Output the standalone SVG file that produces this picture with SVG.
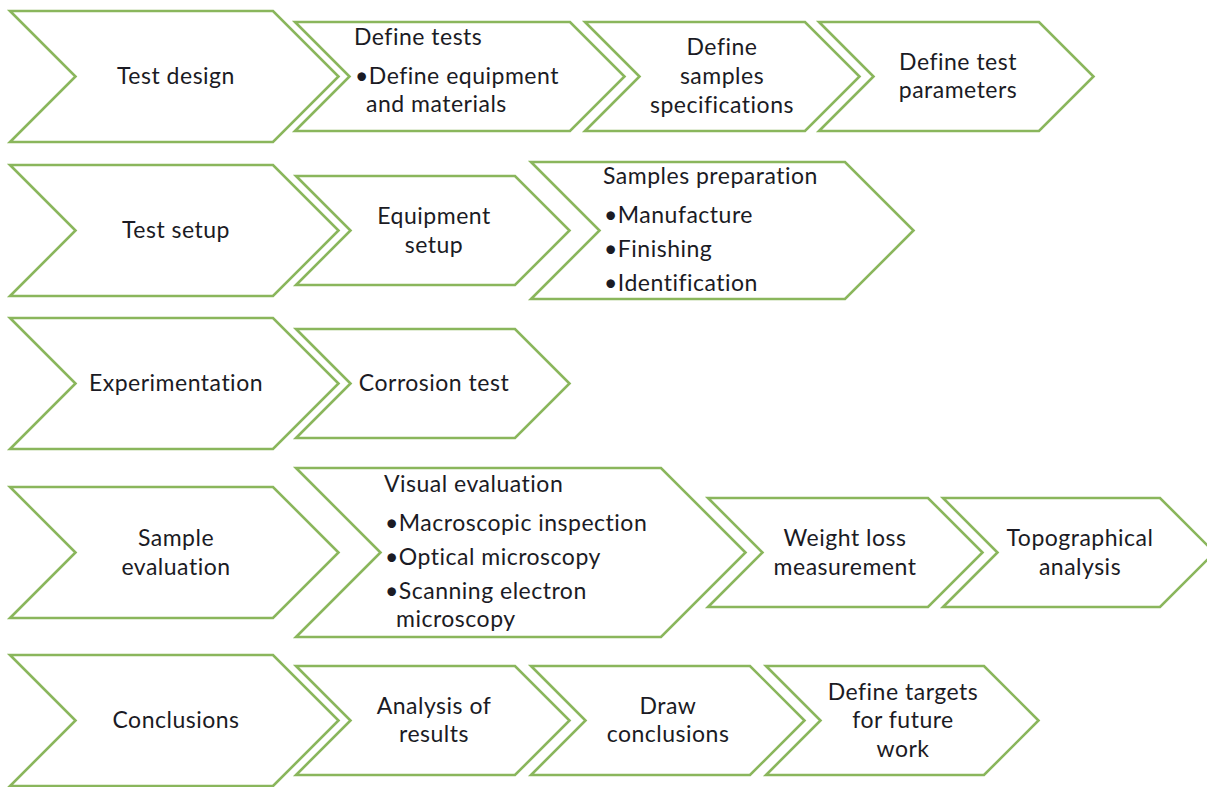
<svg xmlns="http://www.w3.org/2000/svg" width="1207" height="787" viewBox="0 0 1207 787">
  <style>
    .chev { fill: #ffffff; stroke: #8ab65c; stroke-width: 2.6; stroke-linejoin: miter; }
    text { font-family: Lato, "Open Sans", "Liberation Sans", sans-serif; font-size: 23px; letter-spacing: 0.5px; fill: #1b1b24; }
    .c { text-anchor: middle; }
  </style>
  <rect width="1207" height="787" fill="#ffffff"/>

  <!-- Row 1: Test design -->
  <g id="test-design">
    <polygon class="chev" points="10,11 273,11 338.5,76.5 273,142 10,142 75.5,76.5"/>
    <text class="c" x="176" y="84">Test design</text>
  </g>
  <g id="define-tests">
    <polygon class="chev" points="295,22 570,22 624.5,76.5 570,131 295,131 349.5,76.5"/>
    <text x="354" y="45">Define tests</text>
    <text x="355" y="84">•Define equipment</text>
    <text x="366" y="112">and materials</text>
  </g>
  <g id="define-samples">
    <polygon class="chev" points="585,22 805,22 859.5,76.5 805,131 585,131 639.5,76.5"/>
    <text class="c" x="722" y="55">Define</text>
    <text class="c" x="722" y="84">samples</text>
    <text class="c" x="722" y="113">specifications</text>
  </g>
  <g id="define-parameters">
    <polygon class="chev" points="819,22 1039,22 1093.5,76.5 1039,131 819,131 873.5,76.5"/>
    <text class="c" x="958" y="70">Define test</text>
    <text class="c" x="958" y="98">parameters</text>
  </g>

  <!-- Row 2: Test setup -->
  <g id="test-setup">
    <polygon class="chev" points="10,165 273,165 338.5,230.5 273,296 10,296 75.5,230.5"/>
    <text class="c" x="176" y="238">Test setup</text>
  </g>
  <g id="equipment-setup">
    <polygon class="chev" points="296,176 515,176 569.5,230.5 515,285 296,285 350.5,230.5"/>
    <text class="c" x="434" y="224">Equipment</text>
    <text class="c" x="434" y="253">setup</text>
  </g>
  <g id="samples-preparation">
    <polygon class="chev" points="531,162 845,162 913.5,230.5 845,299 531,299 599.5,230.5"/>
    <text x="603" y="184">Samples preparation</text>
    <text x="604" y="223">•Manufacture</text>
    <text x="604" y="257">•Finishing</text>
    <text x="604" y="291">•Identification</text>
  </g>

  <!-- Row 3: Experimentation -->
  <g id="experimentation">
    <polygon class="chev" points="10,318 273,318 338.5,383.5 273,449 10,449 75.5,383.5"/>
    <text class="c" x="176" y="391">Experimentation</text>
  </g>
  <g id="corrosion-test">
    <polygon class="chev" points="296,329 515,329 569.5,383.5 515,438 296,438 350.5,383.5"/>
    <text class="c" x="434" y="391">Corrosion test</text>
  </g>

  <!-- Row 4: Sample evaluation -->
  <g id="sample-evaluation">
    <polygon class="chev" points="10,487 273,487 338.5,552.5 273,618 10,618 75.5,552.5"/>
    <text class="c" x="176" y="546">Sample</text>
    <text class="c" x="176" y="575">evaluation</text>
  </g>
  <g id="visual-evaluation">
    <polygon class="chev" points="296,468 661,468 745.5,552.5 661,637 296,637 380.5,552.5"/>
    <text x="384" y="492">Visual evaluation</text>
    <text x="385" y="531">•Macroscopic inspection</text>
    <text x="385" y="565">•Optical microscopy</text>
    <text x="385" y="599">•Scanning electron</text>
    <text x="396" y="627">microscopy</text>
  </g>
  <g id="weight-loss">
    <polygon class="chev" points="708,498 928,498 982.5,552.5 928,607 708,607 762.5,552.5"/>
    <text class="c" x="845" y="546">Weight loss</text>
    <text class="c" x="845" y="575">measurement</text>
  </g>
  <g id="topographical-analysis">
    <polygon class="chev" points="943,498 1160,498 1214.5,552.5 1160,607 943,607 997.5,552.5"/>
    <text class="c" x="1080" y="546">Topographical</text>
    <text class="c" x="1080" y="575">analysis</text>
  </g>

  <!-- Row 5: Conclusions -->
  <g id="conclusions">
    <polygon class="chev" points="10,655 273,655 338.5,720.5 273,786 10,786 75.5,720.5"/>
    <text class="c" x="176" y="728">Conclusions</text>
  </g>
  <g id="analysis-of-results">
    <polygon class="chev" points="296,666 515,666 569.5,720.5 515,775 296,775 350.5,720.5"/>
    <text class="c" x="434" y="714">Analysis of</text>
    <text class="c" x="434" y="742">results</text>
  </g>
  <g id="draw-conclusions">
    <polygon class="chev" points="531,666 750,666 804.5,720.5 750,775 531,775 585.5,720.5"/>
    <text class="c" x="668" y="714">Draw</text>
    <text class="c" x="668" y="742">conclusions</text>
  </g>
  <g id="define-targets">
    <polygon class="chev" points="766,666 984,666 1038.5,720.5 984,775 766,775 820.5,720.5"/>
    <text class="c" x="903" y="700">Define targets</text>
    <text class="c" x="903" y="728">for future</text>
    <text class="c" x="903" y="757">work</text>
  </g>

  <!-- The chevrons abut one another; there are no separate connector lines -->
  <g id="connectors"/>
</svg>
